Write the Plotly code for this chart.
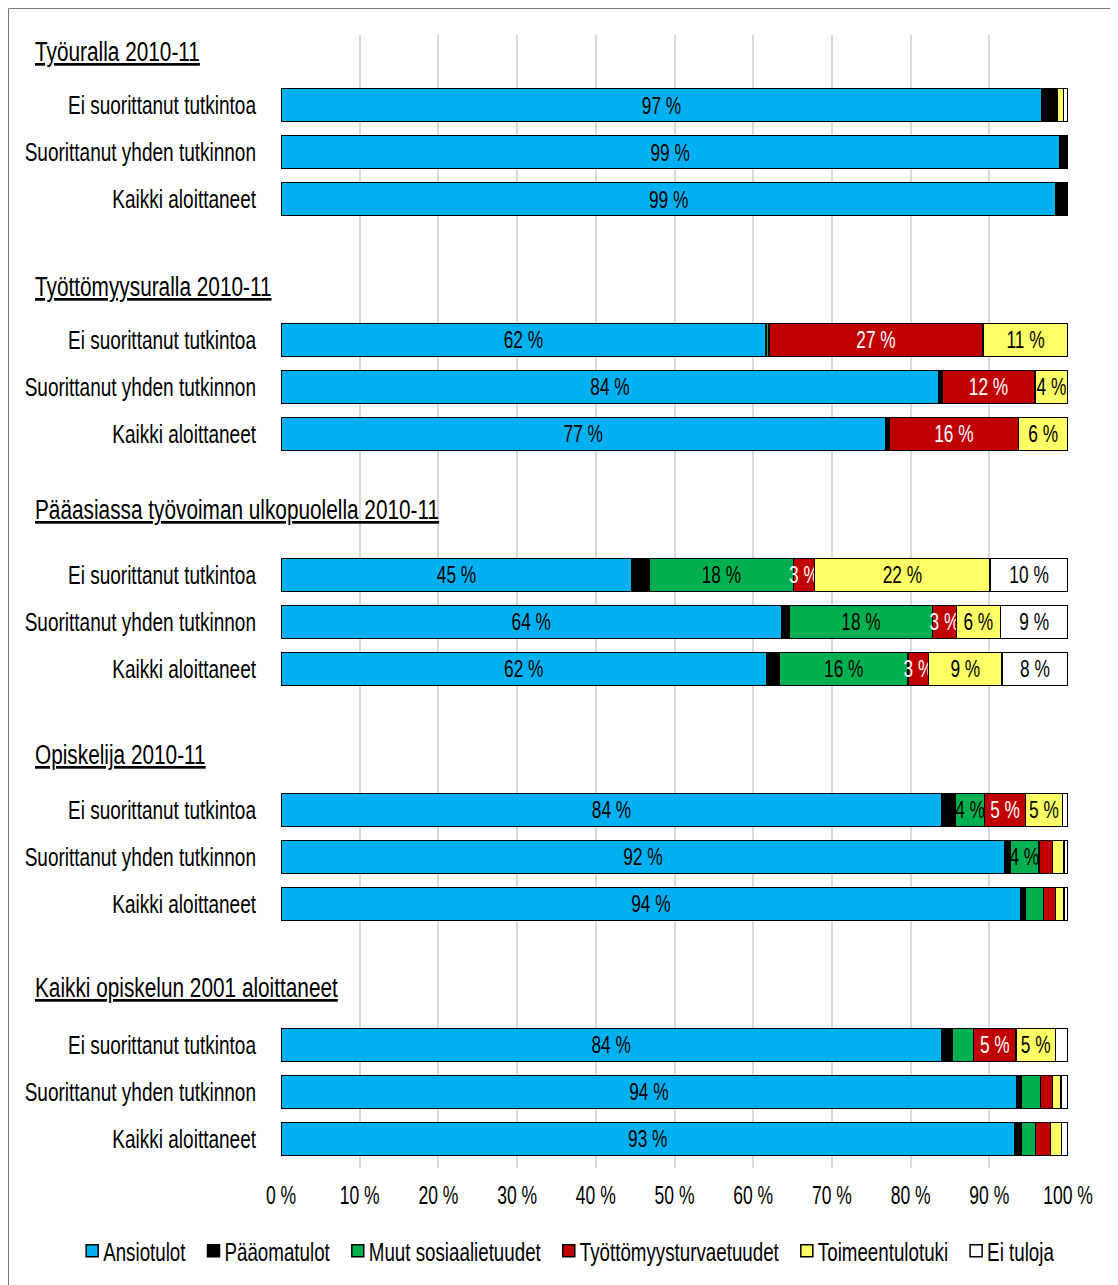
import plotly.graph_objects as go

groups = ["Työuralla 2010-11", "Työttömyysuralla 2010-11",
          "Pääasiassa työvoiman ulkopuolella 2010-11", "Opiskelija 2010-11",
          "Kaikki opiskelun 2001 aloittaneet"]
rows = ["Ei suorittanut tutkintoa", "Suorittanut yhden tutkinnon", "Kaikki aloittaneet"]
series_names = ["Ansiotulot", "Pääomatulot", "Muut sosiaalietuudet",
                "Työttömyysturvaetuudet", "Toimeentulotuki", "Ei tuloja"]

ansiotulot = [96.7, 98.9, 98.5, 61.6, 83.6, 76.8, 44.6, 63.6, 61.7, 84.0, 92.0, 94.0, 83.9, 93.5, 93.2]
paaomatulot = [1.5, 0.7, 1.5, 0.0, 0.4, 0.5, 2.2, 1.0, 1.6, 1.7, 0.6, 0.6, 1.4, 0.6, 0.8]
muut_sos = [0.3, 0.2, 0.0, 0.4, 0.0, 0.0, 18.3, 18.2, 16.4, 3.7, 3.7, 2.3, 2.7, 2.4, 1.9]
tyottomyys = [0.1, 0.1, 0.0, 27.2, 11.8, 16.4, 2.7, 3.0, 2.6, 5.2, 1.7, 1.5, 5.4, 1.5, 1.9]
toimeentulo = [0.8, 0.05, 0.0, 10.8, 4.2, 6.3, 22.3, 5.6, 9.3, 4.7, 1.5, 1.1, 5.0, 1.1, 1.4]
ei_tuloja = [0.6, 0.05, 0.0, 0.0, 0.0, 0.0, 9.9, 8.6, 8.4, 0.7, 0.5, 0.5, 1.6, 0.9, 0.8]

lbl_ansio = ["97 %", "99 %", "99 %", "62 %", "84 %", "77 %", "45 %", "64 %", "62 %",
             "84 %", "92 %", "94 %", "84 %", "94 %", "93 %"]
lbl_paaoma = [""] * 15
lbl_muut = ["", "", "", "", "", "", "18 %", "18 %", "16 %", "4 %", "4 %", "", "", "", ""]
lbl_tyott = ["", "", "", "27 %", "12 %", "16 %", "3 %", "3 %", "3 %", "5 %", "", "", "5 %", "", ""]
lbl_toim = ["", "", "", "11 %", "4 %", "6 %", "22 %", "6 %", "9 %", "5 %", "", "", "5 %", "", ""]
lbl_ei = ["", "", "", "", "", "", "10 %", "9 %", "8 %", "", "", "", "", "", ""]

xticks = list(range(0, 101, 10))

values = [ansiotulot, paaomatulot, muut_sos, tyottomyys, toimeentulo, ei_tuloja]
labels = [lbl_ansio, lbl_paaoma, lbl_muut, lbl_tyott, lbl_toim, lbl_ei]
colors = ["#00B0F0", "#000000", "#00B050", "#C00000", "#FFFF66", "#FFFFFF"]
textcolors = ["black", "white", "black", "white", "black", "black"]

FONT = "Liberation Sans, Arial, sans-serif"


def fnt(size, color="black", **kw):
    d = dict(family=FONT, size=size, color=color)
    d.update(kw)
    return d


ypos = []
ticktext = []
for g in range(len(groups)):
    for i, r in enumerate(rows):
        ypos.append(5 * g + i)
        ticktext.append(r)

fig = go.Figure()
for name, vals, lbls, col, tc in zip(series_names, values, labels, colors, textcolors):
    fig.add_trace(go.Bar(
        name=name, x=vals, y=ypos, orientation="h", width=0.7,
        marker=dict(color=col, line=dict(color="black", width=1.5)),
        text=lbls, textposition="inside", insidetextanchor="middle",
        constraintext="none", textangle=0,
        textfont=fnt(24, tc),
    ))

L, T, PW, PH = 273, 27, 787, 1133
heading_y = [-1.13, 3.87, 8.62, 13.83, 18.79]
for gname, hy in zip(groups, heading_y):
    fig.add_annotation(
        text=gname, xref="paper", yref="y",
        x=(25 - L) / PW, y=hy, xanchor="left", yanchor="middle", align="left",
        showarrow=False, font=fnt(27, lineposition="under"),
    )

# frame along the figure's left and top edges
fig.add_shape(type="line", xref="paper", yref="paper",
              x0=(0.5 - L) / PW, x1=(0.5 - L) / PW, y0=-(1285 - T - PH) / PH, y1=1 + (T - 0.5) / PH,
              line=dict(color="#777777", width=1))
fig.add_shape(type="line", xref="paper", yref="paper",
              x0=(0.5 - L) / PW, x1=(1118 - L) / PW, y0=1 + (T - 0.5) / PH, y1=1 + (T - 0.5) / PH,
              line=dict(color="#777777", width=1))

fig.update_layout(
    barmode="stack",
    width=1118, height=1285,
    margin=dict(l=L, r=1118 - L - PW, t=T, b=1285 - T - PH),
    plot_bgcolor="white", paper_bgcolor="rgba(0,0,0,0)",
    font=fnt(25),
    legend=dict(orientation="h", xref="container", x=0.5, xanchor="center",
                yref="container", y=(1285 - 1220) / 1285, yanchor="top",
                font=fnt(25), traceorder="normal", bgcolor="rgba(0,0,0,0)",
                itemwidth=30, tracegroupgap=0),
    showlegend=True,
)
fig.update_xaxes(range=[0, 100], tickvals=xticks, ticktext=[f"{t} %" for t in xticks],
                 showgrid=True, gridcolor="#D9D9D9", gridwidth=2, zeroline=False,
                 showline=False, ticks="", tickfont=fnt(25), automargin=False,
                 ticklabelstandoff=10)
fig.update_yaxes(range=[22.62, -1.49], tickvals=ypos, ticktext=ticktext,
                 showgrid=False, zeroline=False, showline=False, ticks="",
                 ticklabelstandoff=24, tickfont=fnt(25), automargin=False)

# Condense the glyphs (the reference uses a condensed typeface) while keeping real text
post = r"""
var gd = document.getElementById('{plot_id}');
function squeeze(t, f) {
  var w = t.getComputedTextLength();
  if (w > 0) {
    t.setAttribute('textLength', (w * f).toFixed(2));
    t.setAttribute('lengthAdjust', 'spacingAndGlyphs');
  }
  return w * f;
}
gd.querySelectorAll('.ytick text').forEach(function (t) { squeeze(t, 0.76); });
gd.querySelectorAll('.xtick text').forEach(function (t) { squeeze(t, 0.70); });
gd.querySelectorAll('text.bartext').forEach(function (t) { squeeze(t, 0.72); });
gd.querySelectorAll('text.annotation-text').forEach(function (t) { squeeze(t, 0.77); });
var re = /translate\(\s*([-\d.e]+)[ ,]+([-\d.e]+)\s*\)/;
var items = Array.prototype.slice.call(gd.querySelectorAll('.legend .traces'));
var y0 = null, pos = 0, starts = [];
var GAP = 8, SYM = 14;
items.forEach(function (g) {
  var t = g.querySelector('.legendtext');
  var w = squeeze(t, 0.75);
  t.setAttribute('x', 31);
  var m = re.exec(g.getAttribute('transform') || '');
  if (y0 === null) { y0 = m ? parseFloat(m[2]) : 0; }
  starts.push(pos);
  pos += 31 + w + GAP;
});
var total = pos - GAP - SYM;
var leg = gd.querySelector('g.legend');
var lm = re.exec(leg.getAttribute('transform') || '');
var lx = lm ? parseFloat(lm[1]) : 0;
var off = 562 - total / 2 - SYM - lx;
items.forEach(function (g, i) {
  g.setAttribute('transform', 'translate(' + (starts[i] + off) + ',' + y0 + ')');
});
gd.querySelectorAll('.legend .scrollbox').forEach(function (s) { s.removeAttribute('clip-path'); });
"""

fig.write_html("out.html", post_script=post)
